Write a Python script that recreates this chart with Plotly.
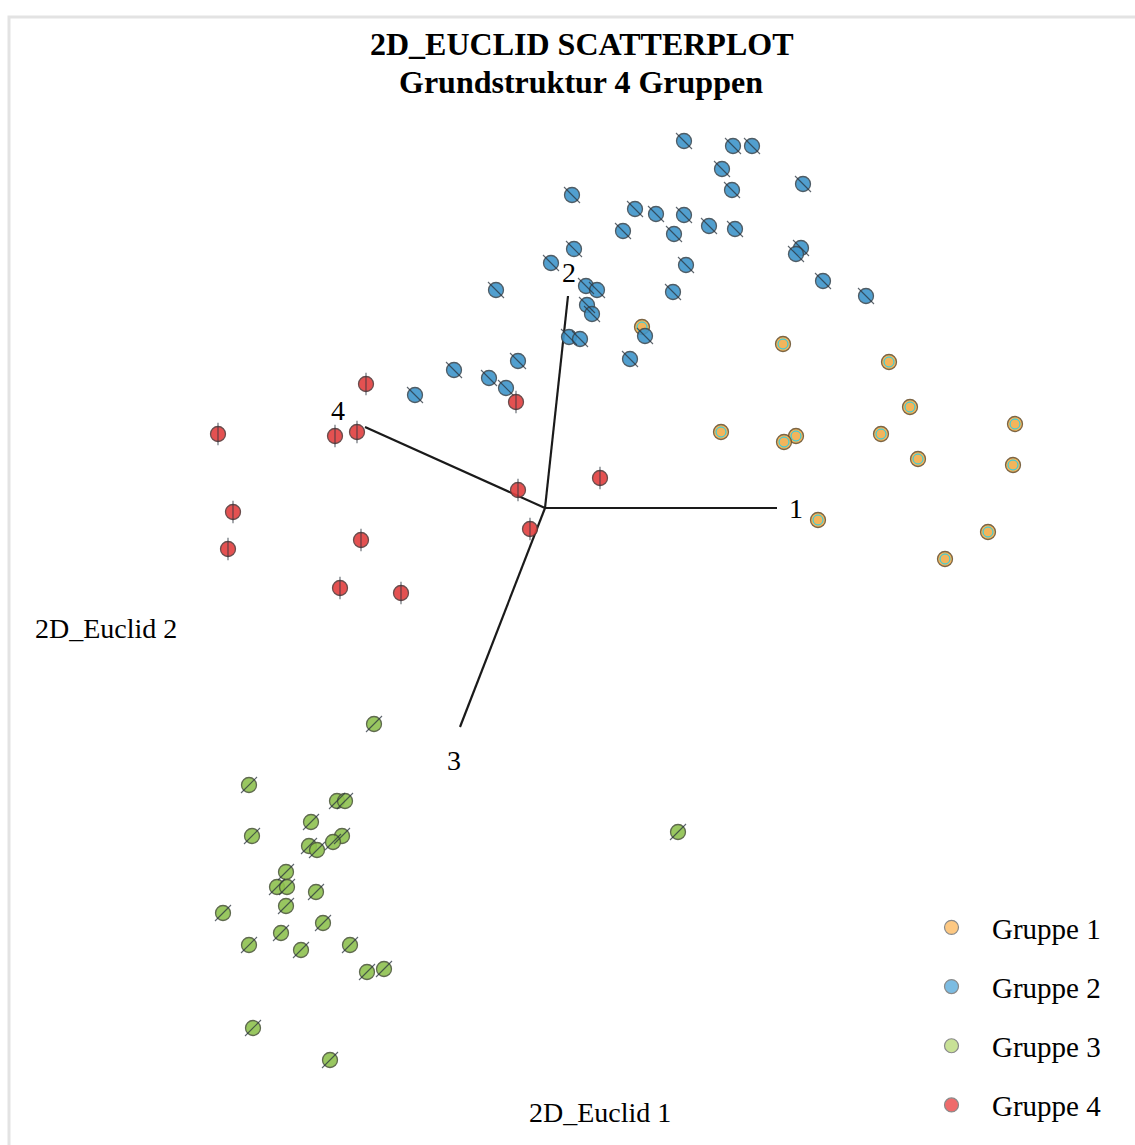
import plotly.graph_objects as go

# Object scores on the two Euclidean dimensions, per group
g1_x = [0.97, 2.38, 3.44, 3.65, 4.70, 1.76, 2.51, 2.39, 3.36, 3.73, 4.68, 2.73, 4.43, 4.00]
g1_y = [1.81, 1.64, 1.46, 1.01, 0.84, 0.76, 0.72, 0.66, 0.74, 0.49, 0.43, -0.12, -0.24, -0.51]

g2_x = [1.39, 1.88, 2.07, 1.77, 1.87, 2.58, 0.27, 0.90, 1.11, 1.39, 0.78, 1.29,
        1.64, 1.90, 0.29, 0.06, 1.41, 2.56, 2.51, -0.49, 0.41, 0.52, 0.42, 0.47,
        1.28, 2.78, 3.21, 0.24, 0.35, 1.00, 0.85, -0.27, -0.91, -0.56, -0.39, -1.30]
g2_y = [3.67, 3.62, 3.62, 3.39, 3.18, 3.24, 3.13, 2.99, 2.94, 2.93, 2.77, 2.74,
        2.82, 2.79, 2.59, 2.45, 2.43, 2.60, 2.54, 2.18, 2.22, 2.18, 2.03, 1.94,
        2.16, 2.27, 2.12, 1.71, 1.69, 1.72, 1.49, 1.47, 1.38, 1.30, 1.20, 1.13]

g3_x = [-1.71, -2.96, -2.08, -2.00, -2.34, -2.93, -2.03, -2.12, -2.36, -2.28,
        1.33, -2.59, -2.68, -2.58, -2.29, -2.59, -3.22, -2.22, -2.64, -2.96,
        -1.95, -2.44, -1.61, -1.78, -2.92, -2.15]
g3_y = [-2.16, -2.77, -2.93, -2.93, -3.14, -3.28, -3.28, -3.34, -3.38, -3.42,
        -3.24, -3.64, -3.79, -3.79, -3.84, -3.98, -4.05, -4.15, -4.25, -4.37,
        -4.37, -4.42, -4.61, -4.64, -5.20, -5.52]

g4_x = [-1.79, -0.29, -3.27, -2.10, -1.88, -0.27, 0.55, -0.15, -3.12, -3.17, -1.84, -2.05, -1.44]
g4_y = [1.24, 1.06, 0.74, 0.72, 0.76, 0.18, 0.30, -0.21, -0.04, -0.41, -0.32, -0.80, -0.85]

# Dimension vectors (end points) for the four variables
vec_names = ["1", "2", "3", "4"]
vec_x = [2.32, 0.23, -0.85, -1.80]
vec_y = [0.00, 2.12, -2.19, 0.81]
# label offsets in pixels relative to each vector tip
vec_dx = [19, 1, -6, -27]
vec_dy = [0, 24, -33, 17]

groups = ["Gruppe 1", "Gruppe 2", "Gruppe 3", "Gruppe 4"]
xs = [g1_x, g2_x, g3_x, g4_x]
ys = [g1_y, g2_y, g3_y, g4_y]
fill = ["#F2AE4B", "#3F95CA", "#8FC24F", "#E23F3F"]
legend_fill = ["#FDC882", "#7CBCE2", "#C8E196", "#EE6B6B"]
stroke = ["#6E5530", "#3C4B55", "#4E5A3C", "#5A3A3A"]
glyph = [None, "line-nw", "line-ne", "line-ns"]

SERIF = "Liberation Serif"
W, H = 1135, 1145

fig = go.Figure()

# biplot vectors
for vx, vy in zip(vec_x, vec_y):
    fig.add_trace(go.Scatter(x=[0, vx], y=[0, vy], mode="lines",
                             line=dict(color="#1a1a1a", width=2.2),
                             showlegend=False, hoverinfo="skip"))

for i, name in enumerate(groups):
    fig.add_trace(go.Scatter(
        x=xs[i], y=ys[i], mode="markers", showlegend=False, name=name,
        marker=dict(symbol="circle", size=15, color=fill[i], opacity=0.9,
                    line=dict(color=stroke[i], width=1.3))))
    if glyph[i]:
        fig.add_trace(go.Scatter(
            x=xs[i], y=ys[i], mode="markers", showlegend=False, hoverinfo="skip",
            marker=dict(symbol=glyph[i], size=16,
                        line=dict(color="rgba(40,50,60,0.75)", width=1.1))))
    else:
        fig.add_trace(go.Scatter(
            x=xs[i], y=ys[i], mode="markers", showlegend=False, hoverinfo="skip",
            marker=dict(symbol="circle-open", size=10,
                        line=dict(color="rgba(200,140,50,0.7)", width=1))))

# legend entries
for i, name in enumerate(groups):
    fig.add_trace(go.Scatter(
        x=[None], y=[None], mode="markers", name=name, legendgroup=name,
        marker=dict(symbol="circle", size=14, color=legend_fill[i],
                    line=dict(color="#8a8a8a", width=1.2))))

annotations = []
for n, vx, vy, dx, dy in zip(vec_names, vec_x, vec_y, vec_dx, vec_dy):
    annotations.append(dict(x=vx, y=vy, xref="x", yref="y", text=n, showarrow=False,
                            xshift=dx, yshift=dy,
                            font=dict(family=SERIF, size=28, color="#000")))

def px(x, y):
    return x / W, 1 - y / H

for text, (cx, cy), size in [
    ("<b>2D_EUCLID SCATTERPLOT</b>", (581, 44), 32),
    ("<b>Grundstruktur 4 Gruppen</b>", (581, 82), 32),
    ("2D_Euclid 1", (600, 1112), 28),
    ("2D_Euclid 2", (106, 628), 28),
]:
    ax, ay = px(cx, cy)
    annotations.append(dict(x=ax, y=ay, xref="paper", yref="paper", text=text,
                            showarrow=False, xanchor="center", yanchor="middle",
                            font=dict(family=SERIF, size=size, color="#000")))

# frame around the chart
shapes = [dict(type="rect", xref="paper", yref="paper",
               x0=9 / W, x1=1.05, y0=-0.05, y1=1 - 17 / H,
               line=dict(color="#e3e3e3", width=3), layer="below")]

fig.update_layout(
    width=W, height=H,
    margin=dict(l=0, r=0, t=0, b=0),
    paper_bgcolor="white", plot_bgcolor="white",
    xaxis=dict(range=[-5.45, 5.90], visible=False, fixedrange=True),
    yaxis=dict(range=[-6.37, 5.08], visible=False, fixedrange=True),
    annotations=annotations, shapes=shapes,
    showlegend=True,
    legend=dict(x=911 / W, y=1 - 902 / H, xanchor="left", yanchor="top",
                traceorder="grouped", tracegroupgap=18.5,
                font=dict(family=SERIF, size=29, color="#000"),
                bgcolor="rgba(0,0,0,0)", itemwidth=71),
)

fig.write_html("out.html")
